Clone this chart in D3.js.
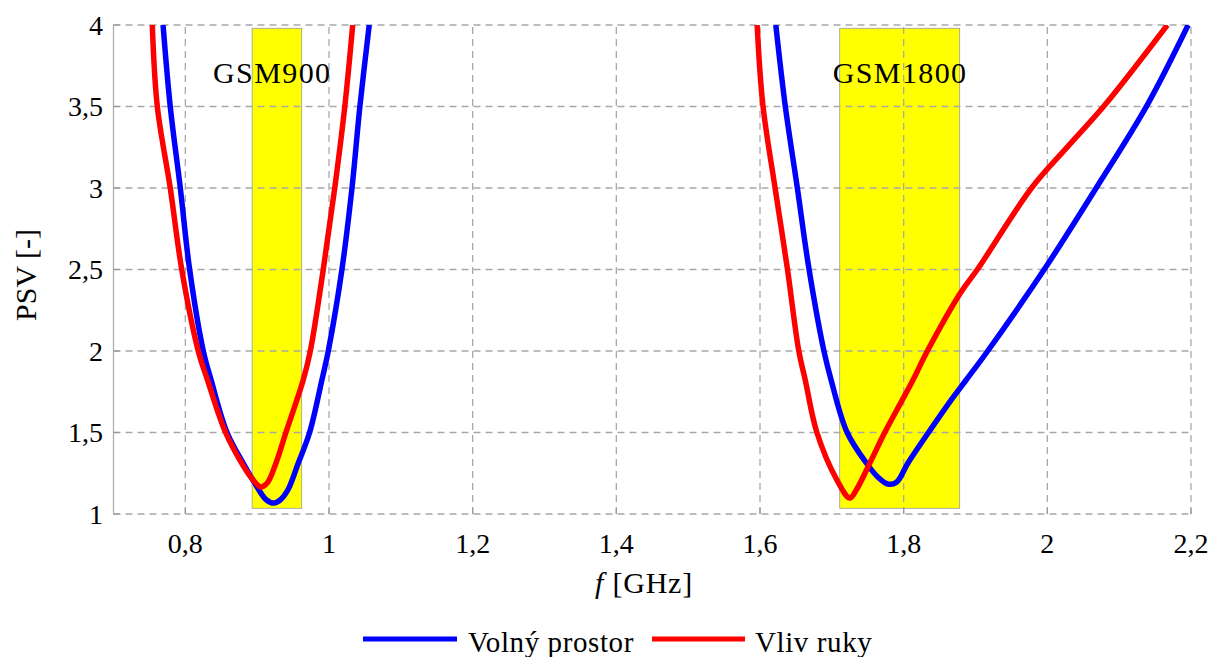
<!DOCTYPE html>
<html>
<head>
<meta charset="utf-8">
<script src="https://cdn.jsdelivr.net/npm/d3@7"></script>
<style>
  html, body { margin: 0; padding: 0; background: #fff; }
  svg { display: block; }
  text { font-family: "Liberation Serif", "DejaVu Serif", serif; fill: #000; }
</style>
</head>
<body>
<svg id="chart" width="1213" height="657"></svg>
<script>
// ---- data ----
const xTicks = [0.8, 1.0, 1.2, 1.4, 1.6, 1.8, 2.0, 2.2];
const xTickLabels = ["0,8", "1", "1,2", "1,4", "1,6", "1,8", "2", "2,2"];
const yTicks = [1, 1.5, 2, 2.5, 3, 3.5, 4];
const yTickLabels = ["1", "1,5", "2", "2,5", "3", "3,5", "4"];

// GSM bands: [fStart, fEnd, psvLow, psvHigh]
const bandNames = ["GSM900", "GSM1800"];
const bandRanges = [[0.893, 0.962, 1.035, 3.98], [1.711, 1.878, 1.035, 3.98]];
const bandLabelPos = [[0.921, 3.644], [1.795, 3.644]];

// Volný prostor (free space) — [f GHz, PSV]
const volnyLow = [[0.769,4.0],[0.779,3.5],[0.793,3.0],[0.806,2.5],[0.825,2.0],[0.836,1.82],[0.858,1.5],[0.882,1.3],[0.898,1.18],[0.912,1.09],[0.923,1.067],[0.933,1.09],[0.943,1.15],[0.957,1.31],[0.973,1.5],[0.990,1.82],[0.999,2.0],[1.018,2.5],[1.032,3.0],[1.043,3.5],[1.056,4.0]];
const volnyHigh = [[1.622,4.0],[1.635,3.509],[1.652,3.0],[1.668,2.509],[1.689,2.0],[1.699,1.822],[1.721,1.503],[1.748,1.313],[1.764,1.227],[1.778,1.184],[1.790,1.195],[1.806,1.313],[1.835,1.503],[1.866,1.699],[1.887,1.822],[1.917,2.0],[1.997,2.509],[2.068,3.0],[2.139,3.509],[2.196,4.0]];

// Vliv ruky (hand influence) — [f GHz, PSV]
const vlivLow = [[0.754,4.0],[0.761,3.5],[0.779,3.0],[0.795,2.5],[0.818,2.0],[0.831,1.82],[0.856,1.5],[0.880,1.3],[0.894,1.21],[0.905,1.166],[0.914,1.19],[0.926,1.31],[0.940,1.5],[0.964,1.82],[0.974,2.0],[0.992,2.5],[1.008,3.0],[1.022,3.5],[1.033,4.0]];
const vlivHigh = [[1.596,4.0],[1.604,3.509],[1.621,3.0],[1.638,2.509],[1.654,2.0],[1.663,1.822],[1.679,1.503],[1.707,1.209],[1.725,1.098],[1.734,1.147],[1.753,1.313],[1.774,1.503],[1.795,1.675],[1.813,1.822],[1.833,2.0],[1.879,2.356],[1.904,2.509],[1.978,3.0],[2.028,3.252],[2.080,3.509],[2.167,4.0]];

const seriesNames = ["Volný prostor", "Vliv ruky"];
const seriesColors = ["#0000ff", "#ff0000"];

// ---- layout ----
const svg = d3.select("#chart");
const x = d3.scaleLinear().domain([0.7, 2.2]).range([113.5, 1191]);
const y = d3.scaleLinear().domain([1, 4]).range([514, 25]);

svg.append("defs").append("clipPath").attr("id", "plotclip")
  .append("rect").attr("x", x(0.7)).attr("y", y(4)).attr("width", x(2.2) - x(0.7)).attr("height", y(1) - y(4));

// bands
bandRanges.forEach((b) => {
  svg.append("rect")
    .attr("x", x(b[0])).attr("y", y(b[3]))
    .attr("width", x(b[1]) - x(b[0])).attr("height", y(b[2]) - y(b[3]))
    .attr("fill", "#ffff00").attr("stroke", "#9a9a9a").attr("stroke-width", 0.8);
});

// grid
const gridColor = "#a8a8a8";
const g = svg.append("g");
yTicks.forEach(v => {
  g.append("line").attr("x1", x(0.7)).attr("x2", x(2.2)).attr("y1", y(v)).attr("y2", y(v))
    .attr("stroke", gridColor).attr("stroke-width", 1.3).attr("stroke-dasharray", "7,5");
});
xTicks.forEach(v => {
  g.append("line").attr("x1", x(v)).attr("x2", x(v)).attr("y1", y(1)).attr("y2", y(4))
    .attr("stroke", gridColor).attr("stroke-width", 1.3).attr("stroke-dasharray", "7,5");
});
// left axis line
g.append("line").attr("x1", x(0.7)).attr("x2", x(0.7)).attr("y1", y(1)).attr("y2", y(4))
  .attr("stroke", "#b0b0b0").attr("stroke-width", 1.3);
// small ticks
yTicks.forEach(v => {
  g.append("line").attr("x1", x(0.7)).attr("x2", x(0.7) + 6).attr("y1", y(v)).attr("y2", y(v))
    .attr("stroke", "#999").attr("stroke-width", 1.2);
});
xTicks.forEach(v => {
  g.append("line").attr("x1", x(v)).attr("x2", x(v)).attr("y1", y(1)).attr("y2", y(1) - 6)
    .attr("stroke", "#999").attr("stroke-width", 1.2);
});

// band labels
bandNames.forEach((n, i) => {
  svg.append("text").attr("x", x(bandLabelPos[i][0])).attr("y", y(bandLabelPos[i][1]))
    .attr("text-anchor", "middle").attr("font-size", 30).attr("letter-spacing", "1.4px")
    .text(n);
});

// curves
const line = d3.line().x(d => x(d[0])).y(d => y(d[1])).curve(d3.curveCatmullRom.alpha(0.5));
const curves = svg.append("g").attr("clip-path", "url(#plotclip)");
[[volnyLow, 0], [volnyHigh, 0], [vlivLow, 1], [vlivHigh, 1]].forEach(([data, s]) => {
  curves.append("path").datum(data).attr("d", line)
    .attr("fill", "none").attr("stroke", seriesColors[s]).attr("stroke-width", 5.5)
    .attr("stroke-linejoin", "round").attr("stroke-linecap", "butt");
});

// tick labels
xTicks.forEach((v, i) => {
  svg.append("text").attr("x", x(v)).attr("y", 553).attr("text-anchor", "middle")
    .attr("font-size", 28).text(xTickLabels[i]);
});
yTicks.forEach((v, i) => {
  svg.append("text").attr("x", 103).attr("y", y(v) + 9.5).attr("text-anchor", "end")
    .attr("font-size", 28).text(yTickLabels[i]);
});

// axis titles
const xt = svg.append("text").attr("x", 644).attr("y", 593).attr("text-anchor", "middle")
  .attr("font-size", 30).attr("letter-spacing", "0.8px");
xt.append("tspan").attr("font-style", "italic").text("f");
xt.append("tspan").text(" [GHz]");

svg.append("text").attr("transform", "translate(36,275) rotate(-90)")
  .attr("text-anchor", "middle").attr("font-size", 30).text("PSV [-]");

// legend
const legendItems = [[363, 457, 468], [652, 745, 755]];
seriesNames.forEach((n, i) => {
  const [x1, x2, tx] = legendItems[i];
  svg.append("line").attr("x1", x1).attr("x2", x2).attr("y1", 639).attr("y2", 639)
    .attr("stroke", seriesColors[i]).attr("stroke-width", 5);
  svg.append("text").attr("x", tx).attr("y", 652).attr("font-size", 29)
    .attr("letter-spacing", "0.6px").text(n);
});
</script>
</body>
</html>
